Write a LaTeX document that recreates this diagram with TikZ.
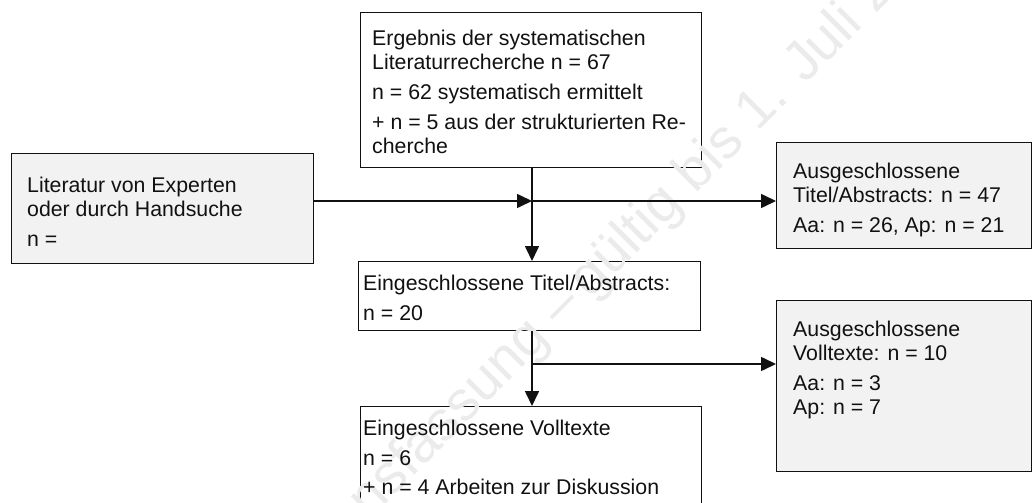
\documentclass[tikz,border=0pt]{standalone}
\usepackage{fontspec}
\setmainfont{Liberation Sans}
\usetikzlibrary{arrows.meta}
\definecolor{boxgray}{HTML}{F2F2F2}
\definecolor{wmgray}{HTML}{EBEBEB}
\definecolor{ink}{HTML}{111111}
\begin{document}
\begin{tikzpicture}[x=1pt,y=-1pt,
  box/.style={draw=ink, line width=1.2pt, fill=white, anchor=north west, inner sep=0pt},
  graybox/.style={box, fill=boxgray},
  txt/.style={anchor=base west, inner sep=0pt, text=ink, font=\fontsize{21.3}{24}\selectfont},
  conn/.style={draw=ink, line width=1.6pt},
  arr/.style={conn, -{Triangle[length=15pt,width=14pt]}},
  wm/.style={inner sep=0pt, text=wmgray, rotate=45, font=\fontsize{56}{56}\selectfont}]
\useasboundingbox (0,0) rectangle (1033,503);
\clip (0,0) rectangle (1033,503);

% boxes
\node[box, minimum width=341pt, minimum height=155pt] (top) at (360,12) {};
\node[graybox, minimum width=302pt, minimum height=110pt] (lit) at (11,153) {};
\node[graybox, minimum width=255pt, minimum height=106pt] (exTA) at (776,142) {};
\node[box, minimum width=342pt, minimum height=69pt] (inTA) at (358,261) {};
\node[graybox, minimum width=255pt, minimum height=171pt] (exVT) at (776,300) {};
\node[box, minimum width=341pt, minimum height=120pt] (inVT) at (360,406) {};

% watermark, above the box fills and below the texts
\coordinate (wmc) at (590,300);
\node[wm, anchor=base east] (wmA) at (wmc) {Konsultationsfassung –\,};
\node[wm, anchor=base west] (wmB) at (wmc) {gültig bis 1. Juli 2024};

% box texts
\node[txt] (top1) at (372,45.5) {Ergebnis der systematischen};
\node[txt] (top2) at (372,69.5) {Literaturrecherche n = 67};
\node[txt] (top3) at (372,99.5) {n = 62 systematisch ermittelt};
\node[txt] (top4) at (372,129.5) {+ n = 5 aus der strukturierten Re-};
\node[txt] (top5) at (372,153.5) {cherche};

\node[txt] (lit1) at (27,192) {Literatur von Experten};
\node[txt] (lit2) at (27,216) {oder durch Handsuche};
\node[txt] (lit3) at (27,246) {n =};

\node[txt] (exTA1) at (793,178.5) {Ausgeschlossene};
\node[txt] (exTA2) at (793,202.5) {Titel/Abstracts: n = 47};
\node[txt] (exTA3) at (793,232.5) {Aa: n = 26, Ap: n = 21};

\node[txt] (inTA1) at (363,290.5) {Eingeschlossene Titel/Abstracts:};
\node[txt] (inTA2) at (363,320.5) {n = 20};

\node[txt] (exVT1) at (793,336.5) {Ausgeschlossene};
\node[txt] (exVT2) at (793,360.5) {Volltexte: n = 10};
\node[txt] (exVT3) at (793,390.5) {Aa: n = 3};
\node[txt] (exVT4) at (793,414.5) {Ap: n = 7};

\node[txt] (inVT1) at (363,435.5) {Eingeschlossene Volltexte};
\node[txt] (inVT2) at (363,465.5) {n = 6};
\node[txt] (inVT3) at (363,494.5) {+ n = 4 Arbeiten zur Diskussion};

% junctions on the main spine
\coordinate (j1) at (532,201);
\coordinate (j2) at (532,364);

% connectors
\draw[arr] (top.south -| j1) -- (inTA.north -| j1);
\draw[arr] (lit.east |- j1) -- (j1);
\draw[arr] (j1) -- (exTA.west |- j1);
\draw[arr] (inTA.south -| j2) -- (inVT.north -| j2);
\draw[arr] (j2) -- (exVT.west |- j2);
\end{tikzpicture}
\end{document}
